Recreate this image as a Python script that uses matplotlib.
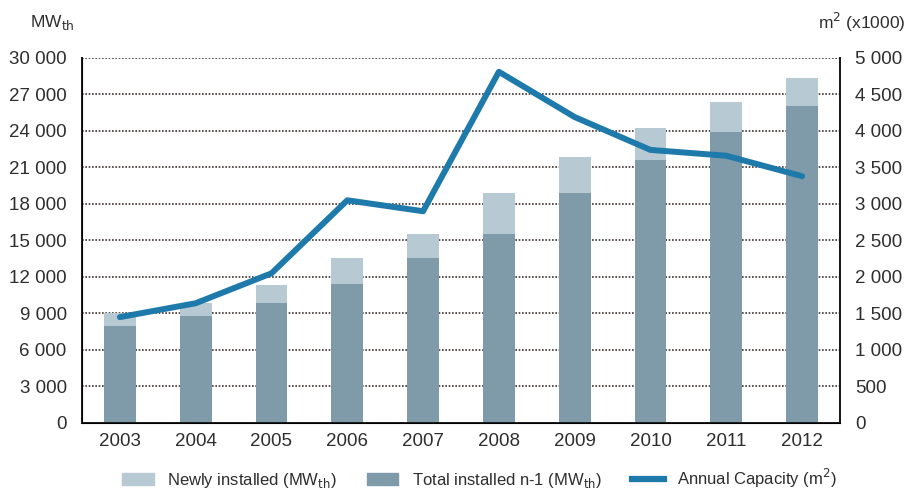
import numpy as np
import matplotlib.pyplot as plt
from matplotlib.patches import Patch
from matplotlib.lines import Line2D

plt.rcParams['font.family'] = ['Liberation Sans', 'DejaVu Sans']

years = ['2003', '2004', '2005', '2006', '2007', '2008', '2009', '2010', '2011', '2012']
total_prev = [7950, 8800, 9900, 11400, 13550, 15550, 18900, 21650, 23900, 26050]
newly = [1050, 1050, 1450, 2150, 1970, 3350, 2980, 2600, 2480, 2300]
capacity = [1450, 1640, 2050, 3050, 2900, 4810, 4190, 3740, 3660, 3380]

left_ticks = [0, 3000, 6000, 9000, 12000, 15000, 18000, 21000, 24000, 27000, 30000]
right_ticks = [0, 500, 1000, 1500, 2000, 2500, 3000, 3500, 4000, 4500, 5000]

c_light = '#b7c9d3'
c_dark = '#7f9aa9'
c_line = '#1e7aab'
c_text = '#2e2e2e'

fig = plt.figure(figsize=(9.13, 4.95), dpi=100)
ax = fig.add_axes([0.0898, 0.1455, 0.8302, 0.7375])
x = np.arange(len(years))

ax.bar(x, total_prev, width=0.42, color=c_dark, zorder=2)
ax.bar(x, newly, width=0.42, bottom=total_prev, color=c_light, zorder=2)

ax.set_xlim(-0.5, len(years) - 0.5)
ax.set_ylim(0, 30000)
ax.set_yticks(left_ticks)
ax.set_yticklabels([f'{v:,}'.replace(',', ' ') for v in left_ticks])
ax.set_xticks(x)
ax.set_xticklabels(years)
ax.tick_params(length=0, labelsize=13.5, colors=c_text, pad=11)
ax.tick_params(axis='x', pad=7)
for v in left_ticks[1:]:
    ax.axhline(v, color='#3d3530', lw=1.2, ls=(0, (1, 1)), zorder=1)
ax.spines['top'].set_visible(False)
for s in ['left', 'bottom', 'right']:
    ax.spines[s].set_color('#1a1a1a')
    ax.spines[s].set_linewidth(1.4)

ax2 = ax.twinx()
ax2.plot(x, capacity, color=c_line, lw=4.3, solid_capstyle='round', zorder=3)
ax2.set_ylim(0, 5000)
ax2.set_yticks(right_ticks)
ax2.set_yticklabels([f'{v:,}'.replace(',', ' ') for v in right_ticks])
ax2.tick_params(length=0, labelsize=13.5, colors=c_text, pad=11)
ax2.spines['top'].set_visible(False)
ax2.spines['right'].set_color('#1a1a1a')
ax2.spines['right'].set_linewidth(1.4)

fig.text(0.033, 0.955, 'MW$_{\\mathrm{th}}$', fontsize=12.5, color=c_text, va='center')
fig.text(0.992, 0.955, 'm$^{2}$ (x1000)', fontsize=12.5, color=c_text, va='center', ha='right')

handles = [Patch(color=c_light), Patch(color=c_dark), Line2D([0], [0], color=c_line, lw=4.5)]
labels = ['Newly installed (MW$_{\\mathrm{th}}$)', 'Total installed n-1 (MW$_{\\mathrm{th}}$)',
          'Annual Capacity (m$^{2}$)']
fig.legend(handles, labels, loc='center', bbox_to_anchor=(0.525, 0.034), ncol=3, frameon=False,
           fontsize=12, handlelength=1.9, handleheight=0.8, columnspacing=1.8,
           labelcolor=c_text)

fig.savefig('out.png', dpi=100)
